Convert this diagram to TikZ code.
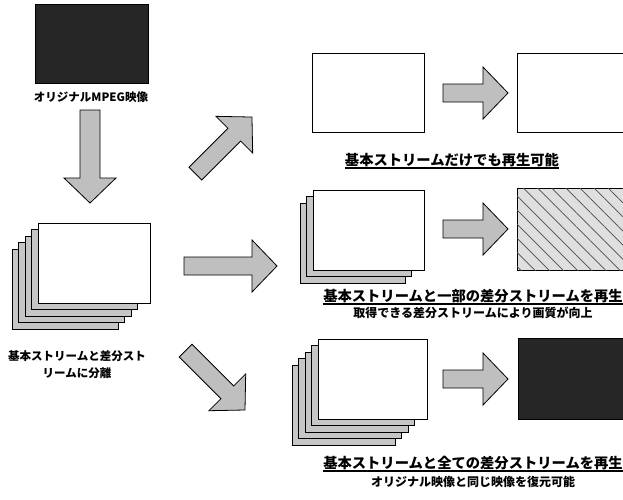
\documentclass[tikz,border=0pt]{standalone}
\usepackage{fontspec}
\newfontfamily\jp{Noto Sans CJK JP}
\usetikzlibrary{patterns.meta}
\tikzset{
  frame/.style={draw=black, line width=0.8pt, fill=white},
  layer/.style={draw=black, line width=0.8pt, fill=gray!45},
  darkimg/.style={draw=black, line width=0.8pt, fill=black!85},
  hatchimg/.style={draw=black, line width=0.8pt, fill=gray!25,
     postaction={pattern={Lines[angle=-45,distance=10pt,line width=0.7pt]}, pattern color=black!70}},
  blockarrow/.style={draw=black, line width=0.8pt, fill=gray!50},
  lbl/.style={font=\jp\bfseries\fontsize{14.3pt}{17pt}\selectfont, inner sep=0pt, anchor=base},
  sublbl/.style={font=\jp\bfseries\fontsize{12pt}{14pt}\selectfont, inner sep=0pt, anchor=base},
  sidelbl/.style={font=\jp\bfseries\fontsize{11.5pt}{17pt}\selectfont, inner sep=0pt, anchor=base},
  uline/.style={line width=1.2pt},
}
\newcommand\blockarr[5]{%
  \begin{scope}[shift={(#1,#2)}, rotate=#3]
    \draw[blockarrow] (0,-#5) -- ({#4-25},-#5) -- ({#4-25},-26) -- (#4,0) -- ({#4-25},26) -- ({#4-25},#5) -- (0,#5) -- cycle;
  \end{scope}}
\newcommand\stackof[5]{% left, top, right, bottom, layers
  \foreach \k in {#5,...,1} {
    \draw[layer] ({#1-6.5*\k},{#2+6.5*\k}) rectangle ({#3-6.5*\k-6},{#4+6.5*\k});
  }
  \draw[frame] (#1,#2) rectangle (#3,#4);}
\begin{document}
\begin{tikzpicture}[x=1pt,y=-1pt]
\useasboundingbox (0,0) rectangle (623,499);
\clip (0,0) rectangle (623,499);
\fill[white] (0,0) rectangle (623,499);

% original
\draw[darkimg] (35,4) rectangle (148,83);
\node[sidelbl] (orig) at (91,101) {オリジナルMPEG映像};
\blockarr{90}{110}{-90}{93}{10}

% split stack
\stackof{38}{223}{150}{303}{4}
\node[sidelbl] (split1) at (77,360) {基本ストリームと差分スト};
\node[sidelbl] (split2) at (77,377) {リームに分離};

% three arrows from the stack
\blockarr{195.4}{173.6}{45}{80}{9}
\blockarr{184}{266}{0}{93}{9}
\blockarr{185.6}{350.6}{-45}{84}{9}

% row 1
\draw[frame] (312,53) rectangle (424,132);
\blockarr{443}{93}{0}{65}{9}
\draw[frame] (517,53) rectangle (640,132);
\node[lbl] (r1) at (452,165) {基本ストリームだけでも再生可能};
\draw[uline] ([yshift=-3pt]r1.base west) -- ([yshift=-3pt]r1.base east);

% row 2
\stackof{313}{190}{424}{270}{2}
\blockarr{443}{229}{0}{65}{9}
\draw[hatchimg] (517,188) rectangle (640,270);
\node[lbl] (r2) at (473,301) {基本ストリームと一部の差分ストリームを再生};
\draw[uline] ([yshift=-3pt]r2.base west) -- ([yshift=-3pt]r2.base east);
\node[sublbl] (r2b) at (473,317.5) {取得できる差分ストリームにより画質が向上};

% row 3
\stackof{318}{339}{427}{419}{4}
\blockarr{443}{379}{0}{65}{9}
\draw[darkimg] (518,338) rectangle (640,419);
\node[lbl] (r3) at (473,468) {基本ストリームと全ての差分ストリームを再生};
\draw[uline] ([yshift=-3pt]r3.base west) -- ([yshift=-3pt]r3.base east);
\node[sublbl] (r3b) at (473,486.5) {オリジナル映像と同じ映像を復元可能};
\end{tikzpicture}
\end{document}
